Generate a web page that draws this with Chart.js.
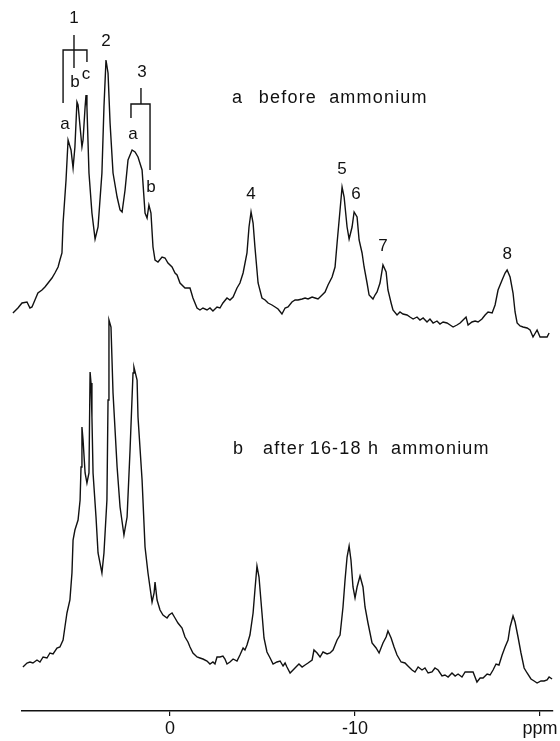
<!DOCTYPE html>
<html>
<head>
<meta charset="utf-8">
<script src="https://cdn.jsdelivr.net/npm/chart.js@4.4.1/dist/chart.umd.min.js"></script>
<style>
  html, body { margin: 0; padding: 0; background: #fff; }
  #wrap { width: 560px; height: 741px; position: relative; }
</style>
</head>
<body>
<div id="wrap"><canvas id="c" width="560" height="741"></canvas></div>
<script>
// ---- Data (chemical shift in ppm, intensity in arbitrary units) ----
// Spectrum a: before ammonium
const topShift = [8.49,8.22,8.00,7.73,7.57,7.46,7.30,7.14,6.92,6.76,6.59,6.38,6.22,6.05,5.95,5.84,5.78,5.62,5.51,5.35,5.24,5.14,5.03,4.97,4.86,4.76,4.70,4.59,4.54,4.49,4.38,4.22,4.05,3.89,3.68,3.57,3.46,3.35,3.24,3.08,2.86,2.70,2.59,2.43,2.27,2.05,1.89,1.73,1.51,1.35,1.24,1.14,1.03,0.92,0.81,0.65,0.43,0.27,0.11,-0.11,-0.27,-0.38,-0.54,-0.81,-1.08,-1.24,-1.46,-1.62,-1.78,-2.00,-2.16,-2.32,-2.54,-2.70,-2.86,-3.08,-3.24,-3.41,-3.62,-3.78,-3.95,-4.16,-4.27,-4.38,-4.49,-4.59,-4.76,-4.97,-5.14,-5.30,-5.51,-5.68,-5.84,-6.05,-6.22,-6.38,-6.59,-6.76,-6.92,-7.14,-7.30,-7.46,-7.68,-7.84,-8.00,-8.22,-8.38,-8.54,-8.76,-8.92,-9.03,-9.19,-9.30,-9.41,-9.57,-9.68,-9.84,-9.95,-10.11,-10.22,-10.38,-10.49,-10.65,-10.76,-10.97,-11.08,-11.19,-11.35,-11.51,-11.68,-11.78,-11.95,-12.05,-12.27,-12.43,-12.59,-12.81,-12.97,-13.14,-13.35,-13.51,-13.68,-13.89,-14.05,-14.22,-14.43,-14.59,-14.76,-14.97,-15.14,-15.30,-15.51,-15.68,-15.84,-16.00,-16.11,-16.32,-16.49,-16.65,-16.86,-17.03,-17.19,-17.41,-17.57,-17.73,-17.95,-18.11,-18.22,-18.38,-18.54,-18.65,-18.76,-18.92,-19.08,-19.30,-19.46,-19.62,-19.84,-20.00,-20.16,-20.38,-20.49];
const topIntensity = [0,5,10,11,5,6,13,20,23,26,30,35,40,46,53,60,90,133,173,163,145,166,211,208,186,166,173,206,218,206,140,100,74,86,140,206,253,240,190,140,116,103,101,123,153,163,161,156,143,100,95,108,100,66,53,51,56,55,50,46,40,38,30,25,25,15,5,3,5,3,5,2,6,5,10,15,13,16,25,30,40,60,86,101,90,66,30,15,13,10,8,6,4,-1,5,6,11,13,13,14,15,14,16,15,14,18,21,28,36,46,70,103,126,116,86,74,86,101,96,73,60,46,30,18,14,18,21,30,48,41,23,10,3,-2,1,-1,-2,-4,-6,-4,-7,-5,-9,-6,-10,-8,-11,-9,-10,-12,-14,-12,-10,-7,-4,-12,-9,-8,-9,-6,-2,1,0,8,23,33,40,43,36,20,1,-10,-13,-14,-15,-17,-24,-17,-24,-24,-24,-20];

// Spectrum b: after 16-18 h ammonium
const bottomShift = [7.95,7.73,7.57,7.41,7.19,7.03,6.86,6.65,6.49,6.32,6.11,5.95,5.78,5.68,5.57,5.41,5.30,5.24,5.14,4.97,4.86,4.81,4.76,4.70,4.59,4.49,4.38,4.32,4.27,4.22,4.16,4.00,3.89,3.68,3.57,3.41,3.35,3.30,3.19,3.08,2.86,2.70,2.49,2.32,2.16,2.00,1.95,1.78,1.73,1.51,1.35,1.19,0.97,0.86,0.81,0.70,0.54,0.38,0.16,0.05,-0.11,-0.27,-0.43,-0.65,-0.81,-0.97,-1.08,-1.24,-1.46,-1.62,-1.78,-2.00,-2.16,-2.32,-2.43,-2.54,-2.70,-2.86,-2.97,-3.08,-3.24,-3.41,-3.62,-3.78,-3.95,-4.05,-4.16,-4.32,-4.49,-4.59,-4.70,-4.81,-4.97,-5.08,-5.24,-5.41,-5.57,-5.78,-5.95,-6.11,-6.22,-6.32,-6.49,-6.65,-6.86,-6.97,-7.14,-7.30,-7.46,-7.68,-7.78,-7.95,-8.11,-8.27,-8.49,-8.65,-8.81,-9.03,-9.19,-9.35,-9.46,-9.57,-9.68,-9.78,-9.89,-10.00,-10.11,-10.27,-10.43,-10.54,-10.70,-10.92,-11.14,-11.30,-11.51,-11.68,-11.78,-11.95,-12.11,-12.27,-12.49,-12.70,-12.86,-13.08,-13.24,-13.41,-13.62,-13.78,-13.95,-14.16,-14.32,-14.49,-14.70,-14.86,-15.03,-15.24,-15.41,-15.57,-15.78,-15.95,-16.11,-16.38,-16.59,-16.76,-16.92,-17.14,-17.30,-17.46,-17.62,-17.78,-17.95,-18.11,-18.27,-18.38,-18.54,-18.65,-18.81,-18.97,-19.14,-19.30,-19.51,-19.68,-19.84,-20.05,-20.22,-20.38,-20.49,-20.65];
const bottomIntensity = [1,5,6,5,8,6,11,10,15,14,20,21,28,41,55,68,95,128,138,148,168,201,241,228,195,185,195,296,285,251,195,151,115,95,115,168,268,348,341,275,201,161,133,151,218,295,301,288,251,188,121,95,66,75,86,68,58,53,50,53,55,50,45,40,31,26,21,15,11,10,9,7,4,6,4,11,11,12,9,4,6,9,7,13,20,18,23,33,55,78,102,91,55,30,16,10,4,6,7,2,5,1,-5,-2,2,4,1,3,5,8,18,15,11,16,14,15,18,28,33,61,88,111,122,108,81,70,81,92,81,61,45,25,20,15,25,31,37,30,21,13,6,5,2,-2,-4,1,-2,0,-5,-4,0,-2,-8,-7,-9,-5,-8,-6,-9,-4,-4,-4,-14,-10,-10,-6,-7,-2,4,3,13,21,28,41,52,46,31,15,0,-5,-11,-13,-15,-13,-13,-12,-9,-11];

// Axis ticks (ppm) and their labels
const tickValues = [0, -10, -20];
const tickLabels = ['0', '-10', 'ppm'];

// Vertical stacking offset of spectrum a above spectrum b
const stackOffset = 355;

// Peak labels on spectrum a: [text, ppm, intensity]
const peakLabels = [
  ['1', 5.19, 295], ['2', 3.46, 272], ['3', 1.51, 241],
  ['a', 5.68, 189], ['b', 5.14, 231], ['c', 4.54, 239],
  ['a', 2.00, 179], ['b', 1.03, 126],
  ['4', -4.38, 119], ['5', -9.30, 144], ['6', -10.05, 119],
  ['7', -11.51, 67], ['8', -18.22, 59]
];
// Bracket polylines on spectrum a: lists of [ppm, intensity]
const brackets = [
  [[5.78, 210], [5.78, 263], [4.49, 263], [4.49, 251]],
  [[5.19, 278], [5.19, 245]],
  [[2.11, 195], [2.11, 209], [1.08, 209], [1.08, 143]],
  [[1.57, 225], [1.57, 209]]
];
// Spectrum titles: words with [ppm, intensity, spectrum]
const titleWords = [
  ['a', -3.35, 210, 'top'], ['before', -4.80, 210, 'top'], ['ammonium', -8.60, 210, 'top'],
  ['b', -3.41, 214, 'bottom'], ['after', -5.03, 214, 'bottom'], ['16-18', -7.55, 214, 'bottom'],
  ['h', -10.70, 214, 'bottom'], ['ammonium', -11.95, 214, 'bottom']
];

const FONT = "'Liberation Sans', Arial, Helvetica, sans-serif";

const annotationPlugin = {
  id: 'nmrAnnotations',
  afterDatasetsDraw(chart) {
    const ctx = chart.ctx;
    const xs = chart.scales.x, ys = chart.scales.y;
    const px = v => xs.getPixelForValue(v);
    const pyTop = v => ys.getPixelForValue(v + stackOffset);
    const pyBot = v => ys.getPixelForValue(v);
    ctx.save();
    ctx.fillStyle = '#111';
    ctx.strokeStyle = '#111';
    ctx.lineWidth = 1.4;
    brackets.forEach(pts => {
      ctx.beginPath();
      pts.forEach((p, i) => {
        const X = px(p[0]), Y = pyTop(p[1]);
        if (i === 0) ctx.moveTo(X, Y); else ctx.lineTo(X, Y);
      });
      ctx.stroke();
    });
    ctx.font = '17px ' + FONT;
    ctx.textAlign = 'center';
    ctx.textBaseline = 'middle';
    peakLabels.forEach(([t, x, y]) => ctx.fillText(t, px(x), pyTop(y)));
    ctx.textAlign = 'left';
    ctx.textBaseline = 'alphabetic';
    ctx.font = '18px ' + FONT;
    try { ctx.letterSpacing = '1.2px'; } catch (e) {}
    titleWords.forEach(([t, x, y, s]) => {
      ctx.fillText(t, px(x), s === 'top' ? pyTop(y) : pyBot(y));
    });
    ctx.restore();
  }
};

const toPoints = (xs, ys, off) => xs.map((x, i) => ({ x: x, y: ys[i] + off }));

new Chart(document.getElementById('c'), {
  type: 'line',
  data: {
    datasets: [
      { label: 'a before ammonium', data: toPoints(topShift, topIntensity, stackOffset),
        borderColor: '#111', borderWidth: 1.4, pointRadius: 0, tension: 0, clip: false, fill: false },
      { label: 'b after 16-18 h ammonium', data: toPoints(bottomShift, bottomIntensity, 0),
        borderColor: '#111', borderWidth: 1.4, pointRadius: 0, tension: 0, clip: false, fill: false }
    ]
  },
  options: {
    responsive: false,
    animation: false,
    devicePixelRatio: 1,
    layout: { padding: { left: 22, right: 7, top: 0, bottom: 0 } },
    plugins: { legend: { display: false }, tooltip: { enabled: false } },
    scales: {
      x: {
        type: 'linear',
        reverse: true,
        min: -20.7,
        max: 8.0,
        afterBuildTicks: s => { s.ticks = tickValues.map(v => ({ value: v })); },
        afterFit: s => { s.height = 30; },
        ticks: {
          autoSkip: false,
          maxRotation: 0,
          padding: 2,
          color: '#111',
          font: { family: FONT, size: 18 },
          callback: (v) => { const i = tickValues.indexOf(v); return i >= 0 ? tickLabels[i] : ''; }
        },
        grid: { drawOnChartArea: false, drawTicks: true, tickLength: 5, color: '#111', lineWidth: 1.2 },
        border: { display: true, color: '#111', width: 1.4 }
      },
      y: {
        display: false,
        min: -43,
        max: 668
      }
    }
  },
  plugins: [annotationPlugin]
});
</script>
</body>
</html>
